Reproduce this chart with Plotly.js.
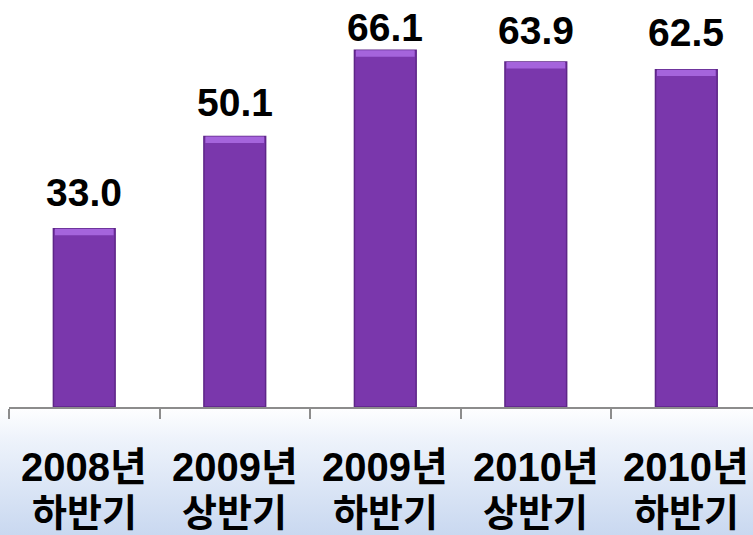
<!DOCTYPE html>
<html>
<head>
<meta charset="utf-8">
<script src="https://cdn.plot.ly/plotly-3.0.1.min.js"></script>
<style>
  html, body { margin: 0; padding: 0; }
  body { width: 753px; height: 535px; overflow: hidden;
    background: linear-gradient(to bottom, #ffffff 0%, #ffffff 76%, #eef3fb 82%, #d9e4f5 92%, #c9d8f0 100%); }
  #chart { width: 753px; height: 535px; }
</style>
</head>
<body>
<div id="chart"></div>
<script>
const yearLabels = ["2008년", "2009년", "2009년", "2010년", "2010년"];
const halfLabels = ["하반기", "상반기", "하반기", "상반기", "하반기"];
const values = [33.0, 50.1, 66.1, 63.9, 62.5];
const valueText = ["33.0", "50.1", "66.1", "63.9", "62.5"];
const labelShift = [13, 11, -1, 8, 14];

const idx = values.map((v, i) => i);
const bevel = 1.2;

const font = '"Liberation Sans", "Noto Sans CJK KR", Arial, sans-serif';

const traces = [
  {
    type: 'bar', x: idx, y: values, width: 0.41,
    marker: { color: '#7a37ac', line: { color: '#5e2688', width: 1.5 } },
    hoverinfo: 'skip'
  },
  {
    type: 'bar', x: idx, y: values.map(() => bevel), base: values.map(v => v - bevel), width: 0.39,
    marker: { color: '#a564dc', line: { width: 0 } },
    hoverinfo: 'skip'
  }
];

const annotations = [];
idx.forEach(i => {
  annotations.push({
    x: i, y: values[i], xref: 'x', yref: 'y',
    text: '<b>' + valueText[i] + '</b>', showarrow: false,
    yanchor: 'bottom', yshift: labelShift[i],
    font: { family: font, size: 39, color: '#000000' }
  });
  annotations.push({
    x: i, y: 0, xref: 'x', yref: 'paper',
    text: '<b>' + yearLabels[i] + '</b>', showarrow: false,
    yanchor: 'middle', yshift: -60,
    font: { family: font, size: 40, color: '#000000' }
  });
  annotations.push({
    x: i, y: 0, xref: 'x', yref: 'paper',
    text: '<b>' + halfLabels[i] + '</b>', showarrow: false,
    yanchor: 'middle', yshift: -106,
    font: { family: font, size: 38, color: '#000000' }
  });
});

const layout = {
  width: 753, height: 535,
  margin: { l: 9, r: 0, t: 0, b: 128 },
  paper_bgcolor: 'rgba(0,0,0,0)',
  plot_bgcolor: 'rgba(0,0,0,0)',
  barmode: 'overlay',
  showlegend: false,
  xaxis: {
    type: 'linear', range: [-0.5, 4.443],
    showgrid: false, zeroline: false,
    showline: true, linecolor: '#8c8c8c', linewidth: 2,
    tickmode: 'array', tickvals: [-0.5, 0.5, 1.5, 2.5, 3.5],
    ticks: 'outside', ticklen: 10, tickwidth: 2, tickcolor: '#8c8c8c',
    showticklabels: false, fixedrange: true
  },
  yaxis: {
    range: [0, 75.4], visible: false, fixedrange: true
  },
  annotations: annotations
};

Plotly.newPlot('chart', traces, layout, { displayModeBar: false, staticPlot: true });
</script>
</body>
</html>
